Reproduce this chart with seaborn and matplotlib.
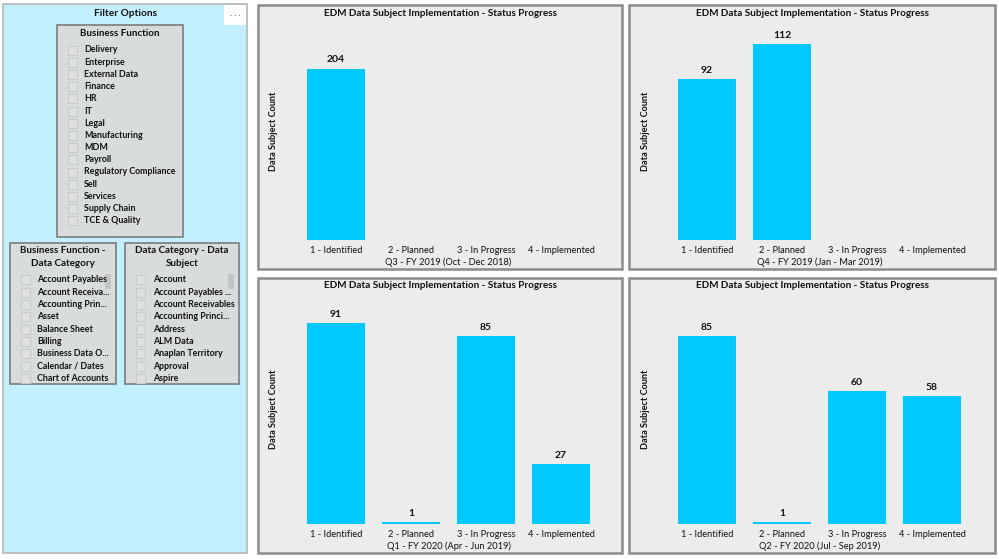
import matplotlib
matplotlib.use("Agg")
import numpy as np
import pandas as pd
import matplotlib.pyplot as plt
import seaborn as sns
from matplotlib.patches import Rectangle

# chart data
statuses = ["1 - Identified", "2 - Planned", "3 - In Progress", "4 - Implemented"]
quarters = ["Q3 - FY 2019 (Oct - Dec 2018)", "Q4 - FY 2019 (Jan - Mar 2019)",
            "Q1 - FY 2020 (Apr - Jun 2019)", "Q2 - FY 2020 (Jul - Sep 2019)"]
counts_q3_fy19 = [204, None, None, None]
counts_q4_fy19 = [92, 112, None, None]
counts_q1_fy20 = [91, 1, 85, 27]
counts_q2_fy20 = [85, 1, 60, 58]
axis_max = [250, 120, 100, 100]

# slicer items
business_functions = ["Delivery", "Enterprise", "External Data", "Finance", "HR", "IT", "Legal",
                      "Manufacturing", "MDM", "Payroll", "Regulatory Compliance", "Sell",
                      "Services", "Supply Chain", "TCE & Quality"]
bf_data_categories = ["Account Payables", "Account Receiva...", "Accounting Prin...", "Asset",
                      "Balance Sheet", "Billing", "Business Data O...", "Calendar / Dates",
                      "Chart of Accounts"]
dc_data_subjects = ["Account", "Account Payables ...", "Account Receivables", "Accounting Princi...",
                    "Address", "ALM Data", "Anaplan Territory", "Approval", "Aspire"]

BAR = "#01C8FF"
PANEL_BG = "#ECECEC"
PANEL_EDGE = "#8C8C8C"
SIDE_BG = "#C2F0FE"
BOX_BG = "#D9DCDC"

W, H = 999, 559

sns.set_style("white")
plt.rcParams["font.family"] = ["Lato", "DejaVu Sans"]

fig = plt.figure(figsize=(W / 100, H / 100), dpi=100)
fig.patch.set_facecolor("white")


def fx(x):
    return x / W


def fy(y):
    return 1 - y / H


def rect(x0, y0, x1, y1, **kw):
    r = Rectangle((fx(x0), fy(y1)), (x1 - x0) / W, (y1 - y0) / H,
                  transform=fig.transFigure, **kw)
    fig.patches.append(r)
    return r


def text(x, y, s, **kw):
    kw.setdefault("va", "center")
    kw.setdefault("color", "#111111")
    return fig.text(fx(x), fy(y), s, **kw)


# ---- filter side panel ----
rect(3, 4, 247, 553, facecolor=SIDE_BG, edgecolor="#B4B8B8", lw=1.2, zorder=0)
rect(224, 5, 246, 25, facecolor="white", edgecolor="none", zorder=1)
text(235, 15, "· · ·", ha="center", fontsize=6, color="#777777")
text(126, 14, "Filter Options", ha="center", fontsize=7.3, fontweight="bold")


def slicer(x0, y0, x1, y1, title_lines, items, y_first, step, box_x, text_x, scroll_x=None):
    box = rect(x0, y0, x1, y1, facecolor=BOX_BG, edgecolor="#7A7C7C", lw=1.2, zorder=1)
    cx = (x0 + x1) / 2
    for i, t in enumerate(title_lines):
        text(cx, y0 + 8 + i * 12, t, ha="center", fontsize=7.1, fontweight="bold", zorder=3)
    for i, item in enumerate(items):
        y = y_first + i * step
        cb = rect(box_x, y - 4.5, box_x + 9, y + 4.5, facecolor="#DFE1E1",
                  edgecolor="#C9CBCB", lw=0.8, zorder=2)
        cb.set_clip_path(box)
        t = text(text_x, y, item, ha="left", fontsize=6.4, fontweight="bold", zorder=3)
        t.set_clip_path(box)
    if scroll_x is not None:
        rect(scroll_x, y_first - 6, scroll_x + 6, y_first + 9, facecolor="#C3C5C5",
             edgecolor="none", zorder=2)


slicer(57, 25, 183, 237, ["Business Function"], business_functions, 50, 12.2, 68, 84)
slicer(10, 243, 116, 384, ["Business Function -", "Data Category"], bf_data_categories,
       280, 12.3, 21, 37, scroll_x=105)
slicer(125, 243, 239, 384, ["Data Category - Data", "Subject"], dc_data_subjects,
       280, 12.3, 136, 153, scroll_x=228)

# ---- bar chart panels ----
panels = [(258, 5, 622, 269), (629, 5, 995, 269), (258, 278, 622, 553), (629, 278, 995, 553)]
all_counts = [counts_q3_fy19, counts_q4_fy19, counts_q1_fy20, counts_q2_fy20]

for (x0, y0, x1, y1), counts, quarter, ymax in zip(panels, all_counts, quarters, axis_max):
    rect(x0, y0, x1, y1, facecolor=PANEL_BG, edgecolor=PANEL_EDGE, lw=1.8, zorder=0)
    text((x0 + x1) / 2, y0 + 8, "EDM Data Subject Implementation - Status Progress",
         ha="center", fontsize=7.2, fontweight="bold")

    base = y1 - 29
    top = y0 + 25
    ax = fig.add_axes([fx(x0 + 40.5), fy(base), 300 / W, (base - top) / H])
    ax.set_zorder(2)
    ax.patch.set_visible(False)

    df = pd.DataFrame({"status": statuses, "count": counts}).dropna()
    sns.barplot(data=df, x="status", y="count", order=statuses, color=BAR,
                saturation=1, width=0.77, linewidth=0, edgecolor="none", ax=ax)
    ax.bar_label(ax.containers[0], fmt="{:.0f}", padding=3, fontsize=7.5, fontweight="bold",
                 color="#111111")

    ax.set_xlim(-0.5, 3.5)
    ax.set_ylim(0, ymax)
    ax.set_yticks([])
    ax.tick_params(axis="x", length=0, pad=4.5, labelsize=6.7, labelcolor="#111111")
    ax.set_xlabel(quarter, fontsize=6.7, labelpad=1.5, color="#111111")
    ax.set_ylabel("Data Subject Count", fontsize=6.6, fontweight="bold", color="#111111")
    ax.yaxis.set_label_coords(-20 / 300, 0.52)
    sns.despine(ax=ax, left=True, bottom=True)

fig.savefig("out.png", dpi=100)
